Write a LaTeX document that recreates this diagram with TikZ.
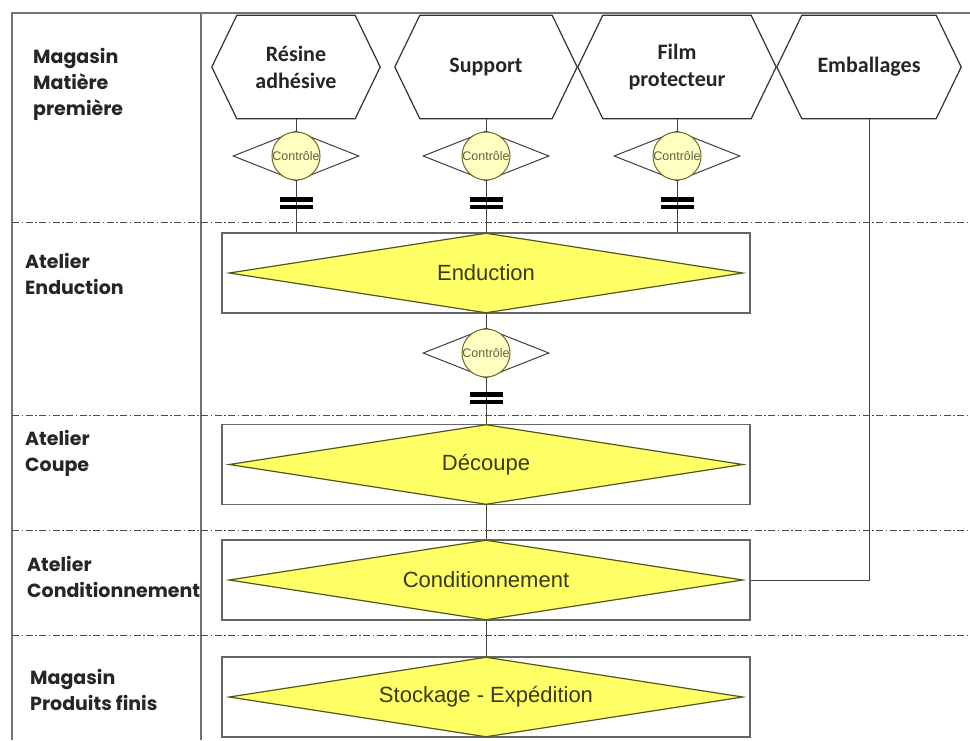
\documentclass[tikz,border=0pt]{standalone}
\usepackage{fontspec}
\setmainfont{Liberation Sans}
\newfontfamily\labfont{Poppins}
\newfontfamily\hexfont{Carlito}
\usetikzlibrary{shapes.geometric,backgrounds}
\definecolor{diayellow}{HTML}{FFFF66}
\definecolor{diaedge}{HTML}{55551E}
\definecolor{diatext}{HTML}{3A3A14}
\definecolor{paleyellow}{HTML}{FFFFC2}
\definecolor{circedge}{HTML}{6B6B2A}
\pgfdeclarelayer{bottom}
\pgfsetlayers{bottom,background,main}
\begin{document}
\begin{tikzpicture}[x=1pt,y=-1pt,
  frame/.style={draw=black!55, line width=1.3pt},
  lane/.style={draw=black!70, line width=0.8pt, dash pattern=on 7pt off 2.5pt on 1.5pt off 2.5pt},
  hexnode/.style={minimum height=103pt, inner sep=0pt, align=center, text=black!85,
    font=\hexfont\bfseries\fontsize{22}{27}\selectfont},
  hexline/.style={draw=black!80, line width=1.2pt},
  procbox/.style={draw=black!60, line width=1.2pt, minimum width=528pt, minimum height=80pt, inner sep=0pt},
  procdia/.style={diamond, aspect=6.4, draw=diaedge, fill=diayellow, line width=1.2pt,
    minimum width=514pt, minimum height=80pt, inner sep=0pt, text=diatext,
    font=\fontsize{22}{26}\selectfont},
  ctrldia/.style={diamond, aspect=2.5, draw=black!75, fill=white, line width=1pt,
    minimum width=126pt, minimum height=50pt, inner sep=0pt},
  ctrlcirc/.style={circle, draw=circedge, fill=paleyellow, line width=1pt, minimum size=48pt, inner sep=0pt},
  ctrltext/.style={inner sep=0pt, text=diatext!80, font=\fontsize{12.5}{14}\selectfont},
  conn/.style={draw=black!75, line width=1pt},
  eqbar/.style={fill=black, minimum width=33pt, minimum height=4.5pt, inner sep=0pt},
  lab/.style={anchor=base west, align=left, inner sep=0pt, text=black!85,
    font=\labfont\bfseries\fontsize{19}{26}\selectfont}
]
\useasboundingbox (0,0) rectangle (970,740);
\begin{pgfonlayer}{bottom}
\fill[white] (0,0) rectangle (970,740);
\end{pgfonlayer}

% frame and lanes
\draw[frame] (12,740) -- (12,13) -- (970,13);
\draw[frame] (201,13) -- (201,740);
\foreach \yy in {222,415,530,635} \draw[lane] (12,\yy) -- (970,\yy);

% lane labels (anchored at the baseline of the last line)
\node[lab] (l1) at (33,115) {Magasin\\Matière\\première};
\node[lab] (l2) at (25,294) {Atelier\\Enduction};
\node[lab] (l3) at (25,471) {Atelier\\Coupe};
\node[lab] (l4) at (27,597) {Atelier\\Conditionnement};
\node[lab] (l5) at (30,710) {Magasin\\Produits finis};

% raw material hexagons
\node[hexnode, minimum width=168pt] (res) at (296,67) {Résine\\adhésive};
\node[hexnode, minimum width=182pt] (sup) at (486,67) {Support};
\node[hexnode, minimum width=198pt] (film) at (677,67) {Film\\protecteur};
\node[hexnode, minimum width=184pt] (emb) at (869,67) {Emballages};
\foreach \h in {res,sup,film,emb}
  \draw[hexline] ([xshift=25pt]\h.north west) -- ([xshift=-25pt]\h.north east) -- (\h.east)
    -- ([xshift=-25pt]\h.south east) -- ([xshift=25pt]\h.south west) -- (\h.west) -- cycle;

% process boxes
\node[procbox] (endbox) at (486,273) {};
\node[procbox] (decbox) at (486,464.5) {};
\node[procbox] (condbox) at (486,580) {};
\node[procbox] (stbox) at (486,697) {};
\node[procdia] (enddia) at (486,273) {Enduction};
\node[procdia] (decdia) at (486,464.5) {Découpe};
\node[procdia] (conddia) at (486,580) {Conditionnement};
\node[procdia] (stdia) at (486,697) {Stockage - Expédition};

% controls
\foreach \n/\x/\y in {c1/296/156, c2/486/156, c3/677/156, c4/486/353} {
  \node[ctrldia] (\n d) at (\x,\y) {};
  \node[ctrlcirc] (\n) at (\x,\y) {};
  \node[ctrltext] (\n t) at (\x,\y) {Contrôle};
}

% connectors
\begin{pgfonlayer}{background}
\draw[conn] (res.south) -- (c1.north);
\draw[conn] (sup.south) -- (c2.north);
\draw[conn] (film.south) -- (c3.north);
\draw[conn] (c1.south) -- (c1.south |- endbox.north);
\draw[conn] (c2.south) -- (enddia.north);
\draw[conn] (c3.south) -- (c3.south |- endbox.north);
\draw[conn] (enddia.south) -- (c4.north);
\draw[conn] (c4.south) -- (decdia.north);
\draw[conn] (decdia.south) -- (conddia.north);
\draw[conn] (conddia.south) -- (stdia.north);
\draw[conn] (emb.south) |- (condbox.east);
\end{pgfonlayer}

% equal bars
\foreach \n/\x/\y in {e1/296/199.5, e2/296/207, e3/486/199.5, e4/486/207, e5/677/199.5, e6/677/207, e7/486/394.5, e8/486/402}
  \node[eqbar] (\n) at (\x,\y) {};
\end{tikzpicture}
\end{document}
